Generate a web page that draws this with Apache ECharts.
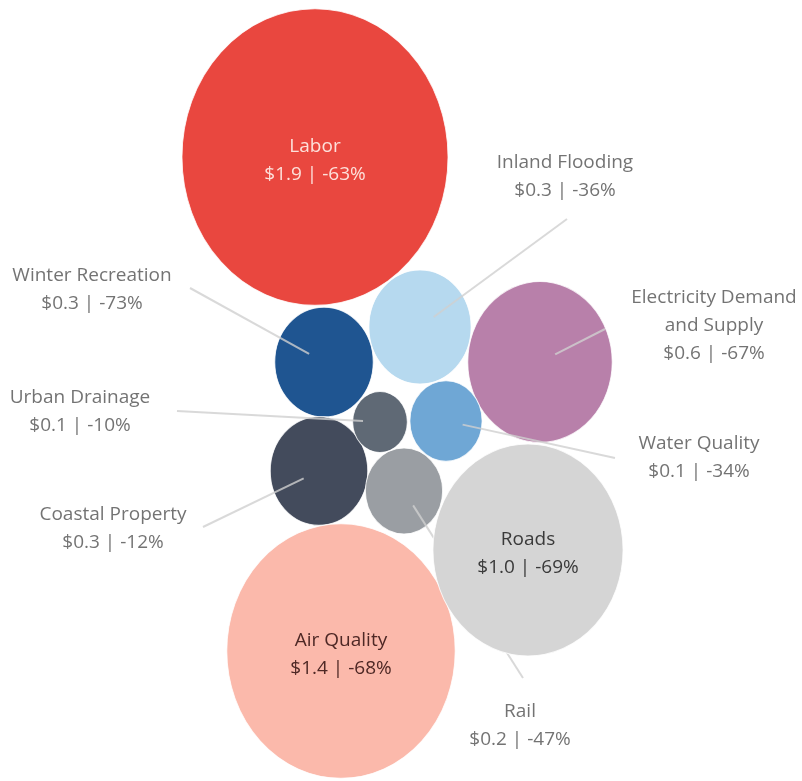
<!DOCTYPE html>
<html><head><meta charset="utf-8">
<script src="https://cdn.jsdelivr.net/npm/echarts@6/dist/echarts.min.js"></script>
<style>html,body{margin:0;padding:0;background:#fff}#c{width:802px;height:781px}</style>
</head><body><div id="c"></div>
<script>
// ---- data ----
const categories = ['Labor', 'Air Quality', 'Roads', 'Electricity Demand\nand Supply', 'Inland Flooding',
  'Winter Recreation', 'Coastal Property', 'Rail', 'Water Quality', 'Urban Drainage'];
const damages = [1.90, 1.40, 0.97, 0.56, 0.28, 0.26, 0.255, 0.16, 0.14, 0.08];   // $ (bubble area)
const changePct = [-63, -68, -69, -67, -36, -73, -12, -47, -34, -10];

// ---- packed-bubble layout (plot units) ----
const packX = [315, 341, 528, 540, 420, 324, 319, 404, 446, 380];
const packY = [157, 651, 550, 362, 327, 362, 471, 491, 421, 422];
const labelX = [null, null, null, 714, 565, 92, 113, 520, 699, 80];
const labelY = [null, null, null, 326, 177, 290, 529, 726, 458, 412];
const leaderX = [null, null, null, 605, 567, 190, 203, 523, 615, 177];
const leaderY = [null, null, null, 329, 219, 288, 527, 678, 458, 411];

// ---- style ----
const colors = ['#e9473f', '#fbb9ab', '#d5d5d5', '#b880aa', '#b6d9ef', '#1f5591', '#434b5c', '#9a9ea3', '#6fa7d5', '#5f6975'];
const insideText = ['#fde0da', '#4e2825', '#3a3a3a'];
const SIZE_K = 193, STRETCH = 1.115, FONT = '"Open Sans", sans-serif';

function lbl(i) {
  return categories[i] + '\n$' + damages[i].toFixed(1) + ' | ' + changePct[i] + '%';
}
function bubble(i) {
  const d = SIZE_K * Math.sqrt(damages[i]);
  const inside = labelX[i] === null;
  return {
    value: [packX[i], packY[i]],
    symbolSize: [d, d * STRETCH],
    itemStyle: {color: colors[i], opacity: 1, borderColor: 'rgba(255,255,255,0.8)', borderWidth: 1},
    label: inside ? {show: true, position: 'inside', offset: [0, 4], formatter: lbl(i), color: insideText[i],
      fontFamily: FONT, fontSize: 19, lineHeight: 28} : {show: false}
  };
}
const idx = categories.map((_, i) => i);
const bigIdx = idx.filter(i => labelX[i] === null);
const smallIdx = idx.filter(i => labelX[i] !== null);

const leaderLines = smallIdx.map(i => {
  const dx = leaderX[i] - packX[i], dy = leaderY[i] - packY[i];
  const n = Math.sqrt(dx * dx + dy * dy);
  return {coords: [[leaderX[i], leaderY[i]], [packX[i] + dx / n * 17, packY[i] + dy / n * 17]]};
});

const chart = echarts.init(document.getElementById('c'));
chart.setOption({
  animation: false,
  backgroundColor: '#fff',
  grid: {left: 0, right: 0, top: 0, bottom: 0},
  xAxis: {type: 'value', min: 0, max: 802, show: false},
  yAxis: {type: 'value', min: 0, max: 781, inverse: true, show: false},
  series: [
    {type: 'scatter', z: 2, symbol: 'circle', silent: true, data: smallIdx.map(bubble)},
    {type: 'lines', coordinateSystem: 'cartesian2d', z: 3, silent: true,
      lineStyle: {color: 'rgba(208,208,208,0.8)', width: 2, opacity: 1}, data: leaderLines},
    {type: 'scatter', z: 4, symbol: 'circle', silent: true, data: bigIdx.map(bubble)},
    {type: 'scatter', z: 5, silent: true, symbolSize: 0,
      data: smallIdx.map(i => ({value: [labelX[i], labelY[i]],
        label: {show: true, position: 'inside', formatter: lbl(i), color: '#505050',
          fontFamily: FONT, fontSize: 19, lineHeight: 28, align: 'center'}}))}
  ]
});
</script></body></html>
